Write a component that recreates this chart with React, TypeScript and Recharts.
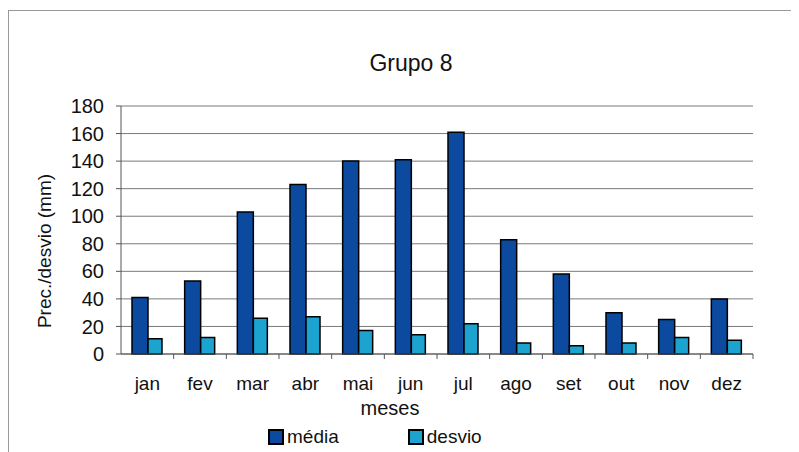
import React from 'react';
import { BarChart, Bar, XAxis, YAxis, CartesianGrid, Legend } from 'recharts';

const months = ['jan', 'fev', 'mar', 'abr', 'mai', 'jun', 'jul', 'ago', 'set', 'out', 'nov', 'dez'];
const media = [41, 53, 103, 123, 140, 141, 161, 83, 58, 30, 25, 40];
const desvio = [11, 12, 26, 27, 17, 14, 22, 8, 6, 8, 12, 10];
const yTicks = [0, 20, 40, 60, 80, 100, 120, 140, 160, 180];

const data = months.map((m, i) => ({ mes: m, media: media[i], desvio: desvio[i] }));

const colors = {
  media: '#0b4a9e',
  desvio: '#1ca3cf',
  grid: '#7a7a7a',
  text: '#111111'
};

const legendItems = [
  { name: 'média', color: colors.media },
  { name: 'desvio', color: colors.desvio }
];

const font = '"Liberation Sans", Arial, sans-serif';
const CHART_W = 791;
const CHART_H = 444;
const margin = { top: 98, right: 46, left: 53, bottom: 0 };

// Excel style: tick marks between categories, label at centre
const MonthTick = ({ x, y, payload }: any) => {
  const band = 632 / months.length;
  return (
    <g>
      <line x1={x + band / 2} x2={x + band / 2} y1={y - 8} y2={y - 3} stroke="#555" />
      <text x={x} y={y + 28} textAnchor="middle" fontSize={19} fill={colors.text} fontFamily={font}>
        {payload.value}
      </text>
    </g>
  );
};

const LegendContent = () => (
  <div style={{ display: 'flex', gap: 69, fontFamily: font, fontSize: 19, color: colors.text }}>
    {legendItems.map((p) => (
      <div key={p.name} style={{ display: 'flex', alignItems: 'center' }}>
        <span style={{ width: 12, height: 12, background: p.color, border: '2px solid #000', marginRight: 3 }} />
        {p.name}
      </div>
    ))}
  </div>
);

export default function App() {
  return (
    <div style={{ position: 'relative', width: CHART_W, height: CHART_H, background: '#fff' }}>
      <div
        style={{
          position: 'absolute', left: 0, top: 2, width: CHART_W - 1, height: CHART_H,
          borderTop: '1px solid #999', borderLeft: '1px solid #999'
        }}
      />
      <div
        style={{
          position: 'absolute', left: 403, top: 55, transform: 'translate(-50%, -50%)',
          whiteSpace: 'nowrap', fontFamily: font, fontSize: 23, color: colors.text
        }}
      >
        Grupo 8
      </div>
      <div
        style={{
          position: 'absolute', left: 37, top: 243, transform: 'translate(-50%, -50%) rotate(-90deg)',
          whiteSpace: 'nowrap', fontFamily: font, fontSize: 19, color: colors.text
        }}
      >
        Prec./desvio (mm)
      </div>
      <div
        style={{
          position: 'absolute', left: 382, top: 400, transform: 'translate(-50%, -50%)',
          fontFamily: font, fontSize: 20, color: colors.text
        }}
      >
        meses
      </div>
      <BarChart
        width={CHART_W}
        height={CHART_H}
        data={data}
        margin={margin}
        barCategoryGap="19%"
        barGap={0}
        style={{ position: 'absolute', left: 0, top: 0 }}
      >
        <CartesianGrid vertical={false} stroke={colors.grid} />
        <XAxis
          dataKey="mes"
          tick={<MonthTick />}
          tickLine={false}
          axisLine={{ stroke: '#555' }}
          height={76}
          interval={0}
        />
        <YAxis
          domain={[0, 180]}
          ticks={yTicks}
          interval={0}
          width={60}
          tickSize={5}
          tickMargin={12}
          tickLine={{ stroke: '#555' }}
          axisLine={{ stroke: '#555' }}
          tick={{ fontSize: 20, fill: colors.text, fontFamily: font }}
        />
        <YAxis
          yAxisId="frame"
          orientation="right"
          domain={[0, 180]}
          width={0}
          tick={false}
          tickLine={false}
          axisLine={{ stroke: colors.grid }}
        />
        <Legend
          content={<LegendContent />}
          wrapperStyle={{ position: 'absolute', left: 260, top: 418, width: 'auto' }}
        />
        <Bar dataKey="media" name="média" fill={colors.media} stroke="#000" strokeWidth={1.5} barSize={16} isAnimationActive={false} />
        <Bar dataKey="desvio" name="desvio" fill={colors.desvio} stroke="#000" strokeWidth={1.5} barSize={14} isAnimationActive={false} />
      </BarChart>
    </div>
  );
}
